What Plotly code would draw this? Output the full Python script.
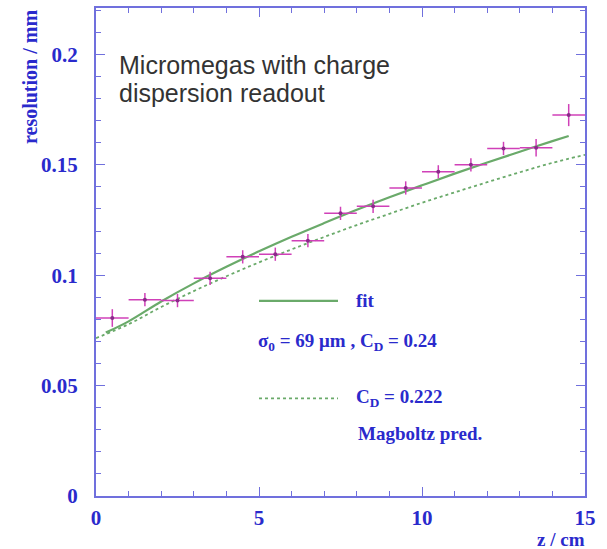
import plotly.graph_objects as go

# Data
z_cm = [0.5, 1.5, 2.5, 3.5, 4.5, 5.5, 6.5, 7.5, 8.5, 9.5, 10.5, 11.5, 12.5, 13.5, 14.5]
resolution_mm = [0.0806, 0.0889, 0.0885, 0.0986, 0.1083, 0.1095, 0.1156, 0.1280, 0.1312,
                 0.1395, 0.1468, 0.1500, 0.1574, 0.1577, 0.1725]
res_err = [0.004, 0.003, 0.003, 0.003, 0.003, 0.003, 0.003, 0.003, 0.003, 0.003, 0.003, 0.003, 0.003, 0.004, 0.005]
z_err = [0.5] * 15

fit_z = [0.3, 1, 2, 3, 4, 5, 6, 7, 8, 9, 10, 11, 12, 13, 14, 14.5]
fit_res = [0.0740, 0.0791, 0.0881, 0.0963, 0.1038, 0.1108, 0.1174, 0.1236, 0.1296,
           0.1353, 0.1407, 0.1460, 0.1510, 0.1559, 0.1607, 0.1630]

pred_z = [0, 1, 2, 3, 4, 5, 6, 7, 8, 9, 10, 11, 12, 13, 14, 15]
pred_res = [0.0715, 0.0778, 0.0856, 0.0928, 0.0995, 0.1058, 0.1117, 0.1173, 0.1227,
            0.1278, 0.1328, 0.1375, 0.1421, 0.1466, 0.1509, 0.1545]

title_lines = ["Micromegas with charge", "dispersion readout"]
legend_fit = ["fit", "σ<sub>0</sub> = 69 μm , C<sub>D</sub> = 0.24"]
legend_pred = ["C<sub>D</sub> = 0.222", "Magboltz pred."]

axis_col = "#7070dd"
text_col = "#2a2acc"
green = "#6aaa6a"
mag = "#d040b8"
serif = "Liberation Serif, DejaVu Serif, serif"

fig = go.Figure()
fig.add_trace(go.Scatter(x=pred_z, y=pred_res, mode="lines", line=dict(color=green, width=1.8, dash="dot", shape="spline"),
                         showlegend=False, hoverinfo="skip"))
fig.add_trace(go.Scatter(x=fit_z, y=fit_res, mode="lines", line=dict(color=green, width=2.2, shape="spline"),
                         showlegend=False, hoverinfo="skip"))
fig.add_trace(go.Scatter(x=z_cm, y=resolution_mm, mode="markers",
                         marker=dict(color="#8a2a8a", size=4, symbol="circle"),
                         error_x=dict(type="data", array=z_err, color=mag, thickness=1.5, width=0),
                         error_y=dict(type="data", array=res_err, color=mag, thickness=1.5, width=0),
                         showlegend=False))

common = dict(showline=True, linecolor=axis_col, linewidth=2, mirror="allticks",
              ticks="inside", tickcolor=axis_col, ticklen=9, tickwidth=1,
              showgrid=False, zeroline=False,
              tickfont=dict(family=serif, size=21, color=text_col, weight="bold"))

fig.update_xaxes(range=[0, 15], tickvals=[0, 5, 10, 15], ticktext=["0", "5", "10", "15"],
                 minor=dict(dtick=1, ticks="inside", ticklen=5, tickcolor=axis_col),
                 ticklabelstandoff=2, **common)
fig.update_yaxes(range=[0, 0.221], tickvals=[0, 0.05, 0.1, 0.15, 0.2],
                 ticktext=["0", "0.05", "0.1", "0.15", "0.2"],
                 minor=dict(dtick=0.01, ticks="inside", ticklen=5, tickcolor=axis_col),
                 ticklabelstandoff=12, **common)

ann = []
# title text inside plot
for i, t in enumerate(title_lines):
    ann.append(dict(x=(117 - 96) / 489, y=(496 - 63 - i * 28) / 490, xref="paper", yref="paper", text=t, showarrow=False,
                    xanchor="left", yanchor="middle",
                    font=dict(family="Liberation Sans, Arial, sans-serif", size=25, color="#333333")))
# legend-like labels
lf = dict(family=serif, size=19, color=text_col, weight="bold")
ann.append(dict(x=(354 - 96) / 489, y=(496 - 300) / 490, xref="paper", yref="paper", text=legend_fit[0], showarrow=False,
                xanchor="left", yanchor="middle", font=lf))
ann.append(dict(x=(256 - 96) / 489, y=(496 - 341) / 490, xref="paper", yref="paper", text=legend_fit[1], showarrow=False,
                xanchor="left", yanchor="middle", font=lf))
ann.append(dict(x=(354 - 96) / 489, y=(496 - 398) / 490, xref="paper", yref="paper", text=legend_pred[0], showarrow=False,
                xanchor="left", yanchor="middle", font=lf))
ann.append(dict(x=(356 - 96) / 489, y=(496 - 433) / 490, xref="paper", yref="paper", text=legend_pred[1], showarrow=False,
                xanchor="left", yanchor="middle", font=lf))
# axis titles
ann.append(dict(x=(30 - 96) / 489, y=(496 - 6) / 490, xref="paper", yref="paper", text="resolution / mm",
                showarrow=False, textangle=-90, xanchor="center", yanchor="top",
                font=dict(family=serif, size=20, color=text_col, weight="bold")))
ann.append(dict(x=1.0 + 2 / 489, y=-(540 - 496) / 490, xref="paper", yref="paper", text="z / cm",
                showarrow=False, xanchor="right", yanchor="middle",
                font=dict(family=serif, size=19, color=text_col, weight="bold")))

shapes = [
    dict(type="line", xref="paper", yref="paper", x0=(259 - 96) / 489, x1=(338 - 96) / 489,
         y0=(496 - 300) / 490, y1=(496 - 300) / 490, line=dict(color=green, width=2.2)),
    dict(type="line", xref="paper", yref="paper", x0=(259 - 96) / 489, x1=(338 - 96) / 489,
         y0=(496 - 398) / 490, y1=(496 - 398) / 490, line=dict(color=green, width=1.8, dash="dot")),
]

fig.update_layout(width=607, height=549, margin=dict(l=96, r=22, t=6, b=53),
                  paper_bgcolor="white", plot_bgcolor="white",
                  annotations=ann, shapes=shapes, showlegend=False)

fig.write_html("out.html")
